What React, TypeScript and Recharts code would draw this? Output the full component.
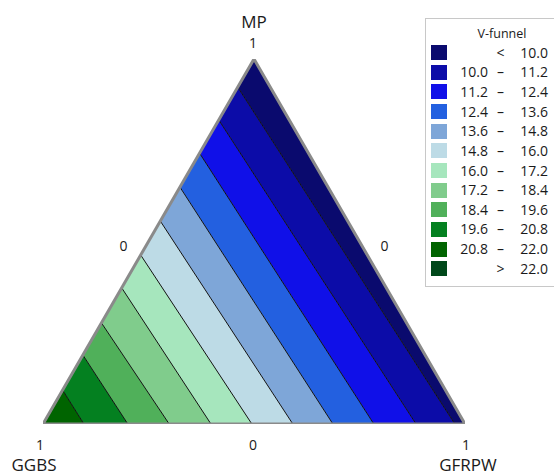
import { ComposedChart, Area, Line, XAxis, YAxis, ReferenceLine, ReferenceDot } from "recharts";

const H = Math.sqrt(3) / 2;
const FONT = "'Open Sans', 'Noto Sans', sans-serif";

// legend breaks for V-funnel and one colour per band (lowest band first)
const BREAKS = [10.0, 11.2, 12.4, 13.6, 14.8, 16.0, 17.2, 18.4, 19.6, 20.8, 22.0];
const BAND_COLORS = [
  "#0a0a6e", "#0c0ca8", "#1010e8", "#2360e0", "#7ea6d8", "#bddbe6",
  "#a6e6bd", "#80cc8c", "#50b05a", "#048020", "#006400", "#00481a",
];

// where each contour (same order as BREAKS) meets the GGBS–MP edge (MP share)
// and the GGBS–GFRPW edge (GFRPW share)
const MP_ON_LEFT_EDGE = [0.923, 0.833, 0.742, 0.649, 0.556, 0.463, 0.373, 0.277, 0.189, 0.093];
const GFRPW_ON_BASE = [0.976, 0.884, 0.784, 0.687, 0.592, 0.495, 0.398, 0.299, 0.201, 0.097];

type Pt = { x: number; y: number };

// ternary (GGBS, GFRPW, MP) -> plot coordinates
const toXY = (ggbs: number, gfrpw: number, mp: number): Pt => ({ x: gfrpw + mp / 2, y: mp * H });

const BL = toXY(1, 0, 0);
const BR = toXY(0, 1, 0);
const TOP = toXY(0, 0, 1);

const contours = MP_ON_LEFT_EDGE.map((s, k) => ({
  level: BREAKS[k],
  a: toXY(1 - s, 0, s),
  b: toXY(1 - GFRPW_ON_BASE[k], GFRPW_ON_BASE[k], 0),
}));

// each band is the part of the triangle between two neighbouring contours
const bands = BAND_COLORS.map((color, i) => {
  const n = contours.length;
  if (i > n) return null;
  const upper = i === 0 ? [TOP, BR] : [contours[i - 1].a, contours[i - 1].b];
  const lower = i === n ? [BL] : [contours[i].a, contours[i].b];
  return { color, poly: [...upper, ...lower.reverse()] };
}).filter(Boolean) as { color: string; poly: Pt[] }[];

// vertical extent of a convex polygon at x
function spanAt(poly: Pt[], x: number): [number, number] | null {
  const ys: number[] = [];
  const eps = 1e-9;
  for (let i = 0; i < poly.length; i++) {
    const p = poly[i];
    const q = poly[(i + 1) % poly.length];
    const lo = Math.min(p.x, q.x) - eps;
    const hi = Math.max(p.x, q.x) + eps;
    if (x < lo || x > hi) continue;
    if (Math.abs(q.x - p.x) < eps) {
      ys.push(p.y, q.y);
    } else {
      ys.push(p.y + ((x - p.x) * (q.y - p.y)) / (q.x - p.x));
    }
  }
  if (!ys.length) return null;
  return [Math.min(...ys), Math.max(...ys)];
}

const xs = Array.from(new Set(bands.flatMap((b) => b.poly.map((p) => +p.x.toFixed(9))))).sort((a, b) => a - b);
const chartData = xs.map((x) => {
  const row: Record<string, any> = { x };
  bands.forEach((b, i) => {
    row[`band${i}`] = spanAt(b.poly, x);
  });
  return row;
});

const outline = [BL, TOP, BR, BL, TOP];

const cornerLabels = [
  { at: TOP, text: "MP", dx: 0, dy: -38, size: 17 },
  { at: TOP, text: "1", dx: -1, dy: -17, size: 14 },
  { at: BL, text: "1", dx: -3, dy: 20, size: 14 },
  { at: BL, text: "GGBS", dx: -9, dy: 40, size: 17 },
  { at: BR, text: "1", dx: 1, dy: 20, size: 14 },
  { at: BR, text: "GFRPW", dx: 3, dy: 40, size: 17 },
  { at: { x: 0.5, y: 0 }, text: "0", dx: -1, dy: 20, size: 14 },
  { at: { x: 0.25, y: H / 2 }, text: "0", dx: -25, dy: 4, size: 14 },
  { at: { x: 0.75, y: H / 2 }, text: "0", dx: 25, dy: 4, size: 14 },
];

function VFunnelLegend() {
  const rows = BAND_COLORS.map((color, i) => {
    if (i === 0) return { color, lo: "", sym: "<", hi: BREAKS[0].toFixed(1) };
    if (i === BAND_COLORS.length - 1) return { color, lo: "", sym: ">", hi: BREAKS[i - 1].toFixed(1) };
    return { color, lo: BREAKS[i - 1].toFixed(1), sym: "–", hi: BREAKS[i].toFixed(1) };
  });
  return (
    <div
      style={{
        position: "absolute",
        left: 425,
        top: 18,
        width: 150,
        height: 267,
        border: "1px solid #c8c8c8",
        background: "#fff",
        fontFamily: FONT,
        color: "#1a1a1a",
      }}
    >
      <div style={{ position: "absolute", left: 26, width: 100, top: 8, textAlign: "center", fontSize: 12.5, lineHeight: "14px" }}>
        V-funnel
      </div>
      {rows.map((r, i) => {
        const cy = 33.6 + i * 19.65;
        return (
          <div key={i} style={{ position: "absolute", left: 0, top: cy - 8, height: 16, width: 150, fontSize: 14, lineHeight: "16px" }}>
            <div style={{ position: "absolute", left: 5, top: 0.5, width: 16, height: 15, background: r.color }} />
            {r.lo && <span style={{ position: "absolute", right: 150 - 62, whiteSpace: "nowrap" }}>{r.lo}</span>}
            <span style={{ position: "absolute", left: 66, width: 17, textAlign: "center" }}>{r.sym}</span>
            <span style={{ position: "absolute", right: 150 - 122, whiteSpace: "nowrap" }}>{r.hi}</span>
          </div>
        );
      })}
    </div>
  );
}

export default function App() {
  return (
    <div style={{ position: "absolute", left: 0, top: 0, width: 554, height: 476, background: "#fff", overflow: "hidden" }}>
      <ComposedChart width={554} height={476} data={chartData} margin={{ top: 59, right: 89, bottom: 52, left: 43 }}>
        <XAxis type="number" dataKey="x" domain={[0, 1]} hide allowDataOverflow />
        <YAxis type="number" domain={[0, H]} hide allowDataOverflow />
        {bands.map((b, i) => (
          <Area
            key={i}
            type="linear"
            dataKey={`band${i}`}
            stroke="none"
            fill={b.color}
            fillOpacity={1}
            dot={false}
            activeDot={false}
            isAnimationActive={false}
          />
        ))}
        {contours.map((c) => (
          <ReferenceLine
            key={c.level}
            segment={[c.a, c.b]}
            stroke="#111"
            strokeWidth={1}
            ifOverflow="visible"
          />
        ))}
        <Line
          data={outline}
          dataKey="y"
          type="linear"
          stroke="#8a8a8a"
          strokeWidth={3}
          strokeLinejoin="miter"
          dot={false}
          activeDot={false}
          isAnimationActive={false}
        />
        {cornerLabels.map((l, i) => (
          <ReferenceDot
            key={i}
            x={l.at.x}
            y={l.at.y}
            r={0}
            fill="none"
            stroke="none"
            ifOverflow="visible"
            label={(props: any) => {
              const vb = props.viewBox || {};
              const cx = (vb.x ?? 0) + (vb.width ?? 0) / 2;
              const cy = (vb.y ?? 0) + (vb.height ?? 0) / 2;
              return (
                <text
                  x={cx + l.dx}
                  y={cy + l.dy}
                  textAnchor="middle"
                  dominantBaseline="central"
                  fontSize={l.size}
                  fontFamily={FONT}
                  fill="#1a1a1a"
                >
                  {l.text}
                </text>
              );
            }}
          />
        ))}
      </ComposedChart>
      <VFunnelLegend />
    </div>
  );
}
